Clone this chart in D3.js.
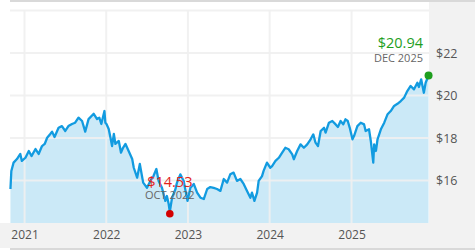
<!DOCTYPE html>
<html><head><meta charset="utf-8">
<script src="https://cdn.jsdelivr.net/npm/d3@7"></script>
<style>html,body{margin:0;padding:0;background:#fff;}svg{display:block;}</style>
</head><body>
<svg id="c" width="475" height="250"></svg>
<script>
const dates = ["2020-10-30","2020-11-03","2020-11-13","2020-11-28","2020-12-13","2020-12-20","2021-01-05","2021-01-20","2021-02-01","2021-02-19","2021-03-05","2021-03-20","2021-04-01","2021-04-12","2021-04-26","2021-05-04","2021-05-15","2021-06-02","2021-06-17","2021-07-02","2021-07-16","2021-08-01","2021-08-15","2021-08-30","2021-09-15","2021-09-29","2021-10-14","2021-11-06","2021-11-21","2021-12-01","2021-12-10","2021-12-24","2021-12-28","2022-01-02","2022-01-12","2022-01-20","2022-01-27","2022-02-04","2022-02-11","2022-02-26","2022-03-08","2022-03-17","2022-03-28","2022-04-11","2022-04-27","2022-05-04","2022-05-19","2022-05-31","2022-06-15","2022-07-02","2022-07-17","2022-07-31","2022-08-13","2022-08-23","2022-09-07","2022-09-22","2022-09-29","2022-10-07","2022-10-12","2022-10-22","2022-11-06","2022-11-13","2022-11-28","2022-12-13","2022-12-30","2023-01-12","2023-01-27","2023-02-11","2023-02-26","2023-03-13","2023-03-28","2023-04-11","2023-04-26","2023-05-11","2023-05-26","2023-06-10","2023-06-25","2023-07-09","2023-07-24","2023-08-08","2023-08-23","2023-09-07","2023-09-22","2023-10-07","2023-10-14","2023-10-25","2023-11-06","2023-11-13","2023-11-28","2023-12-05","2023-12-20","2024-01-04","2024-01-12","2024-01-27","2024-02-11","2024-02-26","2024-03-11","2024-03-26","2024-04-11","2024-04-18","2024-05-03","2024-05-18","2024-06-02","2024-06-17","2024-07-02","2024-07-14","2024-07-24","2024-08-04","2024-08-16","2024-08-31","2024-09-07","2024-09-22","2024-10-07","2024-10-22","2024-11-01","2024-11-13","2024-11-25","2024-12-05","2024-12-15","2024-12-24","2025-01-05","2025-01-12","2025-01-27","2025-02-11","2025-02-26","2025-03-05","2025-03-20","2025-03-28","2025-04-08","2025-04-12","2025-04-20","2025-04-27","2025-05-12","2025-05-27","2025-06-11","2025-06-25","2025-07-10","2025-07-25","2025-08-09","2025-08-24","2025-09-07","2025-09-22","2025-10-07","2025-10-22","2025-10-29","2025-11-08","2025-11-20","2025-11-28","2025-12-11"];
const prices = [15.6,16.45,16.84,17.01,17.25,16.92,17.07,17.39,17.15,17.48,17.25,17.62,17.72,18.01,18.19,18.30,18.05,18.48,18.56,18.33,18.56,18.66,18.72,18.96,18.80,18.30,18.89,19.14,18.89,18.96,18.66,19.27,18.72,18.66,18.42,18.01,17.62,18.19,17.72,17.86,17.31,17.54,17.72,17.39,17.01,16.60,16.13,16.78,15.90,15.66,15.98,16.21,16.54,15.98,15.66,15.04,15.27,14.89,14.53,15.19,15.59,15.90,16.29,15.98,15.04,15.66,15.84,15.43,15.19,15.13,15.60,15.69,15.65,15.60,15.51,16.07,15.90,16.29,16.37,15.98,16.07,15.84,15.51,15.19,15.43,15.04,15.43,15.98,16.21,16.45,16.84,16.60,16.68,16.92,17.07,17.31,17.54,17.47,17.23,17.00,17.39,17.70,17.54,17.70,17.94,18.17,17.78,17.62,18.33,18.48,18.25,18.72,18.80,18.64,18.52,18.80,18.64,18.88,18.80,18.48,17.94,18.09,18.56,18.72,18.64,18.33,18.41,17.86,16.84,17.70,17.39,17.94,18.41,18.72,19.12,19.27,19.51,19.61,19.74,19.90,20.21,20.45,20.29,20.60,20.40,20.76,20.13,20.60,20.94];
const yearTicks = ["2021","2022","2023","2024","2025"];
const priceTicks = [16,18,20,22];
const gridPrices = [16,18,20,22,24];
const lowLabel = {price:"$14.53", date:"OCT 2022"};
const lastLabel = {price:"$20.94", date:"DEC 2025"};

(function(){
const parse = d3.timeParse("%Y-%m-%d");
const data = dates.map((d,i)=>({date:parse(d), v:prices[i]}));
const FONT = "'Open Sans', sans-serif";

const svg = d3.select("#c");
const W=475,H=250, pL=10, pR=429, pT=10, pB=223;

// backgrounds
svg.append("rect").attr("x",0).attr("y",0).attr("width",W).attr("height",H).attr("fill","#fff");
svg.append("rect").attr("x",pR).attr("y",2).attr("width",W-pR).attr("height",246).attr("fill","#f2f2f2");
svg.append("rect").attr("x",0).attr("y",pB).attr("width",W).attr("height",248-pB).attr("fill","#f2f2f2");
svg.append("rect").attr("x",pL).attr("y",0).attr("width",W-pL).attr("height",2).attr("fill","#d9d9d9");
svg.append("rect").attr("x",pL).attr("y",248).attr("width",W-pL).attr("height",2).attr("fill","#d9d9d9");

const x = d3.scaleTime().domain([parse("2020-10-28"), parse("2025-12-13")]).range([pL,pR]);
const y = d3.scaleLinear().domain([14,24]).range([pB,pT+0.5]);

const area = d3.area().x(d=>x(d.date)).y0(pB).y1(d=>y(d.v));
const line = d3.line().x(d=>x(d.date)).y(d=>y(d.v));

svg.append("path").datum(data).attr("d",area).attr("fill","#cbe9f7");

// gridlines
const yearDates = yearTicks.map(t=>parse(t+"-01-01"));
svg.append("g").selectAll("line").data(gridPrices).join("line")
  .attr("x1",pL).attr("x2",pR).attr("y1",d=>y(d)).attr("y2",d=>y(d))
  .attr("stroke","#f0f0f0").attr("stroke-opacity",0.9).attr("stroke-width",2);
svg.append("g").selectAll("line").data(yearDates).join("line")
  .attr("x1",d=>x(d)).attr("x2",d=>x(d)).attr("y1",pT).attr("y2",pB)
  .attr("stroke","#f0f0f0").attr("stroke-opacity",0.9).attr("stroke-width",2);

svg.append("path").datum(data).attr("d",line).attr("fill","none")
  .attr("stroke","#129be0").attr("stroke-width",2.3).attr("stroke-linejoin","round");

// axes
const xAxis = d3.axisBottom(x).tickValues(yearDates).tickFormat(d3.timeFormat("%Y")).tickSize(0).tickPadding(0);
const gx = svg.append("g").attr("transform",`translate(0,${pB+7})`).call(xAxis);
gx.select(".domain").remove();
gx.selectAll("text").attr("fill","#555").attr("font-family",FONT).attr("font-size","12px").attr("dy","0.71em");

const yAxis = d3.axisRight(y).tickValues(priceTicks).tickFormat(d=>"$"+d).tickSize(0).tickPadding(0);
const gy = svg.append("g").attr("transform",`translate(${pR+7},0)`).call(yAxis);
gy.select(".domain").remove();
gy.selectAll("text").attr("fill","#555").attr("font-family",FONT).attr("font-size","12.5px");

// annotations
const low = data.reduce((a,b)=>b.v<a.v?b:a);
const last = data[data.length-1];
svg.append("circle").attr("cx",x(low.date)).attr("cy",y(low.v)+2).attr("r",3.8).attr("fill","#d40000");
svg.append("circle").attr("cx",x(last.date)).attr("cy",y(last.v)).attr("r",4).attr("fill","#1e9e1e");

svg.append("text").attr("x",x(low.date)).attr("y",187).attr("text-anchor","middle")
  .attr("font-family",FONT).attr("font-size","14.5px").attr("fill","#e2231a").text(lowLabel.price);
svg.append("text").attr("x",x(low.date)).attr("y",199).attr("text-anchor","middle")
  .attr("font-family",FONT).attr("font-size","11px").attr("fill","#666").text(lowLabel.date);

svg.append("text").attr("x",423).attr("y",48).attr("text-anchor","end")
  .attr("font-family",FONT).attr("font-size","14.5px").attr("fill","#1e9e1e").text(lastLabel.price);
svg.append("text").attr("x",423).attr("y",62).attr("text-anchor","end")
  .attr("font-family",FONT).attr("font-size","11px").attr("fill","#666").text(lastLabel.date);
})();
</script>
</body></html>
